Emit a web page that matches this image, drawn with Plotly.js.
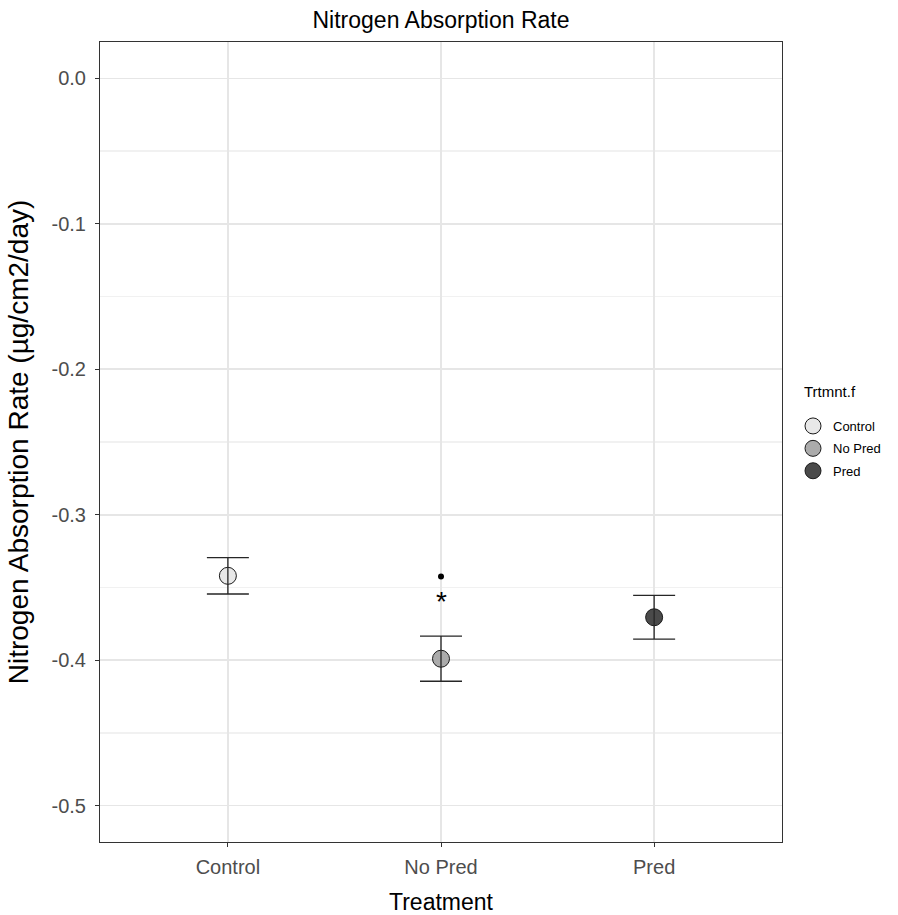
<!DOCTYPE html>
<html>
<head>
<meta charset="utf-8">
<script src="https://cdn.plot.ly/plotly-3.0.1.min.js"></script>
<style>html,body{margin:0;padding:0;background:#fff;}#chart{width:898px;height:915px;}</style>
</head>
<body>
<div id="chart"></div>
<script>
// ---- data ----
const categories = ["Control", "No Pred", "Pred"];
const means = [-0.342, -0.399, -0.3705];
const errors = [0.0125, 0.0155, 0.015];
const fills = ["#e8e8e8", "#ababab", "#4a4a4a"];
const sigDotX = ["No Pred"];
const sigDotY = [-0.3425];
const sigStarX = ["No Pred"];
const sigStarY = [-0.357];
const yTickVals = [0, -0.1, -0.2, -0.3, -0.4, -0.5];
const yTickText = ["0.0", "-0.1", "-0.2", "-0.3", "-0.4", "-0.5"];
const legendTitle = "Trtmnt.f";

const font = "Liberation Sans, Arial, Helvetica, sans-serif";
const traces = [];

// points (legend)
categories.forEach((c, i) => {
  traces.push({
    type: "scatter", mode: "markers",
    x: [c], y: [means[i]], name: c, legendgroup: c,
    marker: {size: 17, color: fills[i], line: {color: "#1a1a1a", width: 1}},
    hoverinfo: "x+y"
  });
});
// error bars on top
categories.forEach((c, i) => {
  traces.push({
    type: "scatter", mode: "markers",
    x: [c], y: [means[i]], showlegend: false, hoverinfo: "skip",
    marker: {size: 1, opacity: 0},
    error_y: {type: "data", array: [errors[i]], symmetric: true, color: "#262626", thickness: 1.3, width: 21}
  });
});
// significance dot
traces.push({
  type: "scatter", mode: "markers", x: sigDotX, y: sigDotY,
  showlegend: false, hoverinfo: "skip",
  marker: {size: 6, color: "#000"}
});

const annotations = sigStarX.map((x, i) => ({
  x: x, y: sigStarY[i], xref: "x", yref: "y", text: "*", showarrow: false,
  font: {size: 28, color: "#000"}, yshift: -4
}));
annotations.push({
  text: legendTitle, xref: "paper", yref: "paper",
  x: (802 - 100) / 682, xanchor: "left",
  y: (842 - 391) / 800, yanchor: "middle",
  showarrow: false, font: {size: 15, color: "#000"}
});

const layout = {
  width: 898, height: 915,
  paper_bgcolor: "#fff", plot_bgcolor: "#fff",
  margin: {l: 100, r: 116, t: 42, b: 73, autoexpand: false},
  font: {family: font, color: "#000"},
  title: {text: "Nitrogen Absorption Rate", font: {size: 23, color: "#000"},
          x: 0.5, xref: "paper", y: 1 - 20/915, yref: "container", yanchor: "middle"},
  xaxis: {
    type: "category", categoryorder: "array", categoryarray: categories,
    range: [-0.6, 2.6],
    showgrid: true, gridcolor: "#e6e6e6", gridwidth: 1.6,
    zeroline: false, showline: true, mirror: true, linecolor: "#333", linewidth: 1,
    ticks: "outside", ticklen: 4, tickcolor: "#333", ticklabelstandoff: 3,
    tickfont: {size: 20, color: "#4d4d4d"},
    title: {text: "Treatment", font: {size: 23, color: "#000"}, standoff: 18}
  },
  yaxis: {
    range: [-0.525, 0.025],
    tickmode: "array", tickvals: yTickVals, ticktext: yTickText,
    showgrid: true, gridcolor: "#e6e6e6", gridwidth: 1.6,
    minor: {dtick: 0.05, tick0: 0, showgrid: true, gridcolor: "#f1f1f1", gridwidth: 1.2, ticks: ""},
    zeroline: false, showline: true, mirror: true, linecolor: "#333", linewidth: 1,
    ticks: "outside", ticklen: 4, tickcolor: "#333", ticklabelstandoff: 5,
    tickfont: {size: 20, color: "#4d4d4d"},
    title: {text: "Nitrogen Absorption Rate (µg/cm2/day)", font: {size: 28, color: "#000"}, standoff: 14}
  },
  legend: {
    x: (793 - 100) / 682, xanchor: "left", y: (842 - 411) / 800, yanchor: "top",
    font: {size: 13, color: "#000"},
    tracegroupgap: 2.5,
    bgcolor: "rgba(0,0,0,0)"
  },
  annotations: annotations,
  showlegend: true
};

Plotly.newPlot("chart", traces, layout, {displayModeBar: false, staticPlot: true});
</script>
</body>
</html>
